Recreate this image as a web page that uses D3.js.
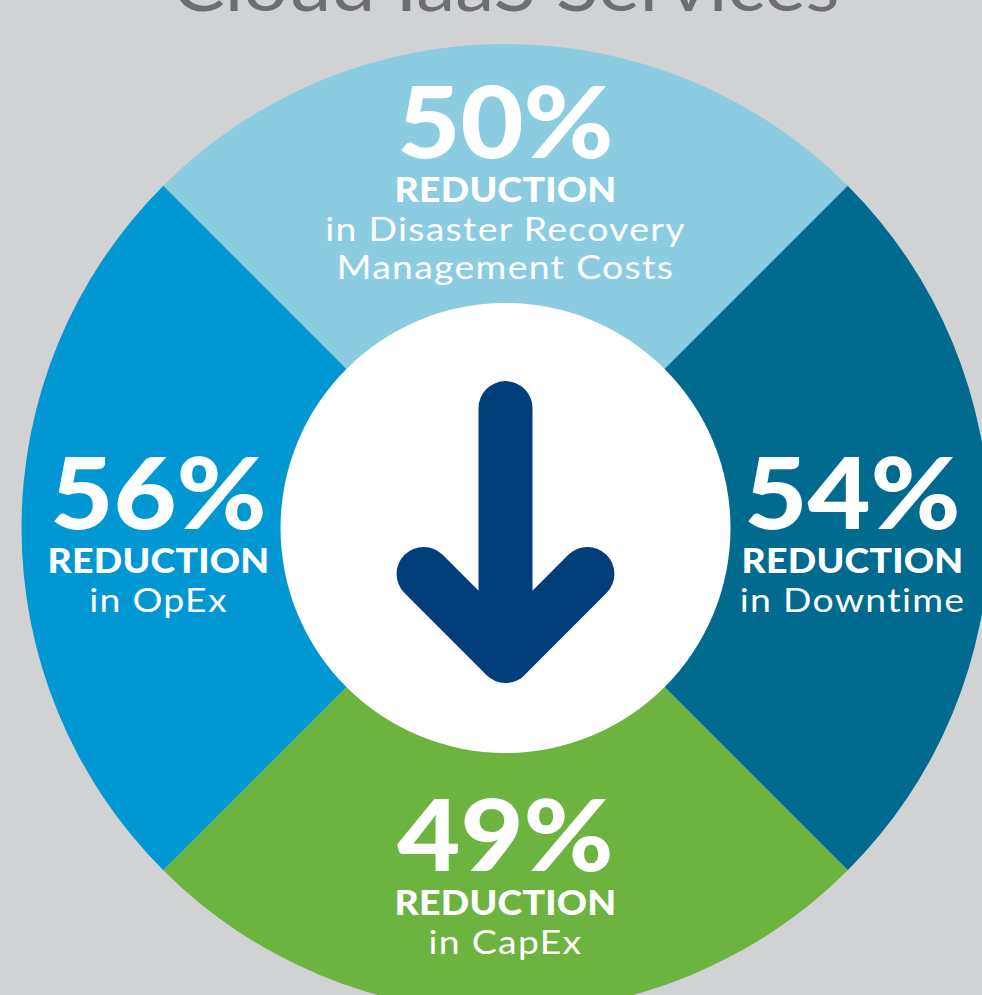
<!DOCTYPE html>
<html>
<head>
<meta charset="utf-8">
<script src="https://cdn.jsdelivr.net/npm/d3@7"></script>
<style>
  html, body { margin: 0; padding: 0; background: #d1d2d4; }
  svg { display: block; }
</style>
</head>
<body>
<svg id="chart"></svg>
<script>
// Quadrants, clockwise from the top
var segments = ['Disaster Recovery Management Costs', 'Downtime', 'CapEx', 'OpEx'];
var reductions = [50, 54, 49, 56];
var descriptions = [
  ['in Disaster Recovery', 'Management Costs'],
  ['in Downtime'],
  ['in CapEx'],
  ['in OpEx']
];
var segmentColors = ['#8bcce1', '#006a8f', '#6cb33f', '#0097d3'];
var title = 'Cloud IaaS Services';

var WIDTH = 982;
var HEIGHT = 995;
// Center and radii of the ring
var CX = 505.5;
var CY = 528;
var OUTER = 484;
var INNER = 225;
// Where the label blocks sit, relative to the center
var LABEL_R = 347;
var LABEL_DY = 3;
// The original face is wider than Lato, so stretch the text a little
var WIDE_BOLD = 1.1;
var WIDE_LIGHT = 1.17;

var svg = d3.select('#chart').attr('width', WIDTH).attr('height', HEIGHT);

svg.append('rect').attr('width', WIDTH).attr('height', HEIGHT).attr('fill', '#d1d2d4');

// Title, mostly cropped off by the top edge
svg.append('g').attr('transform', 'translate(506,11)')
  .append('text')
  .attr('transform', 'scale(1.12,1)')
  .attr('text-anchor', 'middle')
  .attr('font-family', 'Lato, sans-serif')
  .attr('font-weight', 400)
  .attr('font-size', 70)
  .attr('fill', '#6d6e71')
  .text(title);

var g = svg.append('g').attr('transform', 'translate(' + CX + ',' + CY + ')');

// Equal quarters, turned so each one is centred on an axis
var pie = d3.pie().value(function () { return 1; }).sort(null)
  .startAngle(-Math.PI / 4).endAngle(Math.PI * 7 / 4);
var arc = d3.arc().innerRadius(0).outerRadius(OUTER);

g.selectAll('.slice')
  .data(pie(segments))
  .enter().append('path')
  .attr('class', 'slice')
  .attr('d', arc)
  .attr('fill', function (d, i) { return segmentColors[i]; });

g.append('circle').attr('r', INNER).attr('fill', '#ffffff');

// Down arrow in the middle
var u = d3.scaleLinear().domain([0, 1]).range([0, INNER]);
var arrow = d3.path();
arrow.moveTo(0, u(-0.533));
arrow.lineTo(0, u(0.569));
arrow.moveTo(u(-0.364), u(0.204));
arrow.lineTo(0, u(0.569));
arrow.lineTo(u(0.364), u(0.204));
g.append('path')
  .attr('d', arrow.toString())
  .attr('fill', 'none')
  .attr('stroke', '#023f7a')
  .attr('stroke-width', u(0.24))
  .attr('stroke-linecap', 'round')
  .attr('stroke-linejoin', 'round');

// Labels
var labels = g.selectAll('.label')
  .data(pie(segments))
  .enter().append('g')
  .attr('class', 'label')
  .attr('transform', function (d, i) {
    var a = (d.startAngle + d.endAngle) / 2;
    var lines = descriptions[i].length;
    var blockH = 70 + 84 + (lines - 1) * 38;
    var x = LABEL_R * Math.sin(a);
    var y = LABEL_DY - LABEL_R * Math.cos(a) - blockH / 2 + 70 + 5 * Math.abs(Math.sin(a));
    return 'translate(' + x + ',' + y + ')';
  });

labels.append('text')
  .attr('transform', 'scale(' + WIDE_BOLD + ',1)')
  .attr('text-anchor', 'middle')
  .attr('font-family', 'Lato, sans-serif')
  .attr('font-weight', 900)
  .attr('font-size', 99)
  .attr('fill', '#ffffff')
  .text(function (d, i) { return reductions[i] + '%'; });

labels.append('text')
  .attr('transform', 'translate(0,44) scale(' + WIDE_BOLD + ',1)')
  .attr('text-anchor', 'middle')
  .attr('font-family', 'Lato, sans-serif')
  .attr('font-weight', 900)
  .attr('font-size', 34)
  .attr('letter-spacing', 0.2)
  .attr('fill', '#ffffff')
  .text('REDUCTION');

labels.each(function (d, i) {
  d3.select(this).selectAll('.desc')
    .data(descriptions[i])
    .enter().append('text')
    .attr('class', 'desc')
    .attr('transform', function (t, j) {
      return 'translate(0,' + (83 + j * 38) + ') scale(' + WIDE_LIGHT + ',1)';
    })
    .attr('text-anchor', 'middle')
    .attr('font-family', 'Lato, sans-serif')
    .attr('font-weight', 400)
    .attr('font-size', 32)
    .attr('letter-spacing', 1.1)
    .attr('fill', '#ffffff')
    .text(function (t) { return t; });
});
</script>
</body>
</html>
